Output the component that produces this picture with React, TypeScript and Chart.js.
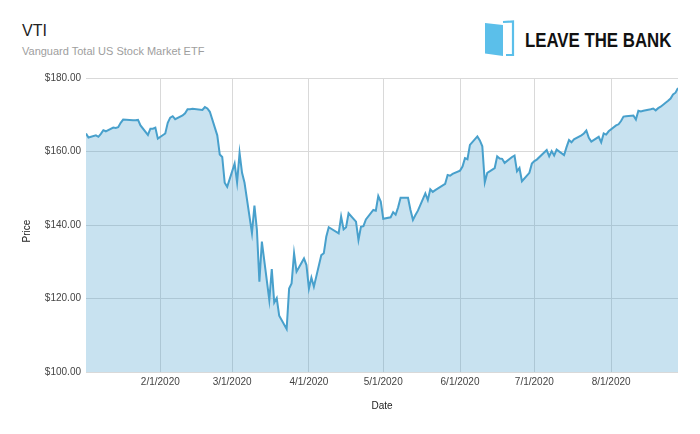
import { useEffect, useRef } from "react";
import { Chart, registerables } from "chart.js";

Chart.register(...registerables);

// ---- Data (VTI daily close, 2020) ----
const tradingDates: string[] = [
  "2020-01-02", "2020-01-03", "2020-01-06", "2020-01-07", "2020-01-08", "2020-01-09", "2020-01-10",
  "2020-01-13", "2020-01-14", "2020-01-15", "2020-01-16", "2020-01-17",
  "2020-01-21", "2020-01-22", "2020-01-23", "2020-01-24",
  "2020-01-27", "2020-01-28", "2020-01-29", "2020-01-30", "2020-01-31",
  "2020-02-03", "2020-02-04", "2020-02-05", "2020-02-06", "2020-02-07",
  "2020-02-10", "2020-02-11", "2020-02-12", "2020-02-13", "2020-02-14",
  "2020-02-18", "2020-02-19", "2020-02-20", "2020-02-21",
  "2020-02-24", "2020-02-25", "2020-02-26", "2020-02-27", "2020-02-28",
  "2020-03-02", "2020-03-03", "2020-03-04", "2020-03-05", "2020-03-06",
  "2020-03-09", "2020-03-10", "2020-03-11", "2020-03-12", "2020-03-13",
  "2020-03-16", "2020-03-17", "2020-03-18", "2020-03-19", "2020-03-20",
  "2020-03-23", "2020-03-24", "2020-03-25", "2020-03-26", "2020-03-27",
  "2020-03-30", "2020-03-31", "2020-04-01", "2020-04-02", "2020-04-03",
  "2020-04-06", "2020-04-07", "2020-04-08", "2020-04-09",
  "2020-04-13", "2020-04-14", "2020-04-15", "2020-04-16", "2020-04-17",
  "2020-04-20", "2020-04-21", "2020-04-22", "2020-04-23", "2020-04-24",
  "2020-04-27", "2020-04-28", "2020-04-29", "2020-04-30", "2020-05-01",
  "2020-05-04", "2020-05-05", "2020-05-06", "2020-05-07", "2020-05-08",
  "2020-05-11", "2020-05-12", "2020-05-13", "2020-05-14", "2020-05-15",
  "2020-05-18", "2020-05-19", "2020-05-20", "2020-05-21", "2020-05-22",
  "2020-05-26", "2020-05-27", "2020-05-28", "2020-05-29",
  "2020-06-01", "2020-06-02", "2020-06-03", "2020-06-04", "2020-06-05",
  "2020-06-08", "2020-06-09", "2020-06-10", "2020-06-11", "2020-06-12",
  "2020-06-15", "2020-06-16", "2020-06-17", "2020-06-18", "2020-06-19",
  "2020-06-22", "2020-06-23", "2020-06-24", "2020-06-25", "2020-06-26",
  "2020-06-29", "2020-06-30", "2020-07-01", "2020-07-02",
  "2020-07-06", "2020-07-07", "2020-07-08", "2020-07-09", "2020-07-10",
  "2020-07-13", "2020-07-14", "2020-07-15", "2020-07-16", "2020-07-17",
  "2020-07-20", "2020-07-21", "2020-07-22", "2020-07-23", "2020-07-24",
  "2020-07-27", "2020-07-28", "2020-07-29", "2020-07-30", "2020-07-31",
  "2020-08-03", "2020-08-04", "2020-08-05", "2020-08-06", "2020-08-07",
  "2020-08-10", "2020-08-11", "2020-08-12", "2020-08-13", "2020-08-14",
  "2020-08-17", "2020-08-18", "2020-08-19", "2020-08-20", "2020-08-21",
  "2020-08-24", "2020-08-25", "2020-08-26", "2020-08-27", "2020-08-28",
];

const closePrices: number[] = [
  164.9, 163.8, 164.4, 164.0, 164.8, 165.8, 165.5,
  166.5, 166.4, 166.6, 167.8, 168.7,
  168.5, 168.5, 168.6, 167.1,
  164.5, 166.2, 166.2, 166.5, 163.5,
  164.9, 167.8, 169.2, 169.6, 168.8,
  169.8, 170.4, 171.5, 171.5, 171.6,
  171.3, 172.1, 171.7, 170.8,
  164.4, 159.2, 158.5, 151.5, 150.4,
  156.7, 151.6, 159.6, 154.2, 151.5,
  137.8, 145.3, 138.7, 124.6, 135.5,
  119.6, 128.0, 118.9, 120.1, 115.3,
  111.7, 122.7, 124.1, 132.3, 127.3,
  130.9, 129.1, 122.7, 125.7, 123.2,
  131.8, 132.3, 136.8, 139.4,
  137.7, 142.3, 138.8, 139.4, 143.2,
  140.9, 135.9, 139.5, 139.7, 141.5,
  144.1, 143.9, 147.9, 146.4, 141.7,
  142.1, 143.5, 142.8, 144.8, 147.4,
  147.4, 144.1, 141.4, 142.7, 143.9,
  148.6, 146.8, 149.7, 149.0, 149.5,
  151.2, 153.6, 153.4, 153.9,
  154.8, 155.9, 158.2, 157.9, 161.8,
  164.1, 163.0, 161.4, 151.6, 154.2,
  155.5, 158.7, 158.1, 158.0, 156.9,
  158.5, 158.9, 154.6, 155.5, 151.9,
  154.2, 156.7, 157.4, 157.8,
  160.4, 158.7, 160.1, 158.9, 160.5,
  159.0, 161.2, 163.1, 162.5, 163.3,
  164.4, 164.9, 165.7, 163.7, 162.7,
  164.0, 162.5, 164.9, 164.6, 165.5,
  167.1, 167.4, 168.3, 169.5, 169.6,
  169.8, 168.7, 171.1, 170.9, 171.1,
  171.5, 171.7, 171.2, 171.8, 172.2,
  173.8, 174.4, 175.5, 176.0, 177.3,
];

const monthTickDates: string[] = [
  "2020-02-01", "2020-03-01", "2020-04-01", "2020-05-01", "2020-06-01", "2020-07-01", "2020-08-01",
];
const monthTickLabels: string[] = [
  "2/1/2020", "3/1/2020", "4/1/2020", "5/1/2020", "6/1/2020", "7/1/2020", "8/1/2020",
];
const priceTicks: number[] = [100, 120, 140, 160, 180];

// ---- Styles ----
const FONT = '"Liberation Sans", Arial, Helvetica, sans-serif';
const LINE_COLOR = "rgb(72,160,204)";
const FILL_COLOR = "rgba(72,160,204,0.3)";
const GRID_COLOR = "#d9d9d9";
const TICK_COLOR = "#444444";

const DAY_MS = 86400000;
const toDay = (s: string): number => {
  const [y, m, d] = s.split("-").map(Number);
  return (Date.UTC(y, m - 1, d) - Date.UTC(2020, 0, 1)) / DAY_MS;
};

const axisTitlePlugin = {
  id: "axisTitles",
  afterDraw(chart: any) {
    const { ctx, chartArea } = chart;
    const { left, right, top, bottom } = chartArea;
    ctx.save();
    ctx.fillStyle = "#222222";
    ctx.font = `10px ${FONT}`;
    ctx.textAlign = "center";
    ctx.textBaseline = "middle";
    ctx.fillText("Date", (left + right) / 2, bottom + 34);
    ctx.translate(27, (top + bottom) / 2 + 6);
    ctx.rotate(-Math.PI / 2);
    ctx.fillText("Price", 0, 0);
    ctx.restore();
  },
};

export default function App() {
  const canvasRef = useRef<HTMLCanvasElement>(null);

  useEffect(() => {
    if (!canvasRef.current) return;
    const points = tradingDates.map((d, i) => ({ x: toDay(d), y: closePrices[i] }));
    const tickDays = monthTickDates.map(toDay);

    const chart = new Chart(canvasRef.current, {
      type: "line",
      data: {
        datasets: [
          {
            label: "VTI",
            data: points,
            borderColor: LINE_COLOR,
            backgroundColor: FILL_COLOR,
            fill: "start",
            borderWidth: 2,
            pointRadius: 0,
            pointHoverRadius: 0,
            tension: 0,
          },
        ],
      },
      options: {
        responsive: false,
        maintainAspectRatio: false,
        animation: false,
        devicePixelRatio: 1,
        layout: { padding: { top: 78, right: 22, left: 0, bottom: 0 } },
        plugins: {
          legend: { display: false },
          tooltip: { enabled: false },
        },
        scales: {
          x: {
            type: "linear",
            min: toDay(tradingDates[0]),
            max: toDay(tradingDates[tradingDates.length - 1]),
            afterFit: (s: any) => {
              s.height = 62;
            },
            afterBuildTicks: (s: any) => {
              s.ticks = tickDays.map((v) => ({ value: v }));
            },
            ticks: {
              autoSkip: false,
              maxRotation: 0,
              padding: 4,
              color: TICK_COLOR,
              font: { family: FONT, size: 10 },
              callback: (_v: any, i: number) => monthTickLabels[i] ?? "",
            },
            grid: { color: GRID_COLOR, drawTicks: false, lineWidth: 1 },
            border: { display: false },
          },
          y: {
            min: 100,
            max: 180,
            afterFit: (s: any) => {
              s.width = 86;
            },
            afterBuildTicks: (s: any) => {
              s.ticks = priceTicks.map((v) => ({ value: v }));
            },
            ticks: {
              padding: 5,
              color: TICK_COLOR,
              font: { family: FONT, size: 10 },
              callback: (v: any) => "$" + Number(v).toFixed(2),
            },
            grid: { color: GRID_COLOR, drawTicks: false, lineWidth: 1 },
            border: { display: false },
          },
        },
      },
      plugins: [axisTitlePlugin],
    });

    return () => chart.destroy();
  }, []);

  return (
    <div
      style={{
        position: "fixed",
        left: 0,
        top: 0,
        width: 700,
        height: 434,
        background: "#ffffff",
        overflow: "hidden",
        fontFamily: FONT,
      }}
    >
      <div
        style={{
          position: "absolute",
          left: 22,
          top: 23,
          fontSize: 16,
          lineHeight: "16px",
          color: "#222222",
          whiteSpace: "nowrap",
        }}
      >
        VTI
      </div>
      <div
        style={{
          position: "absolute",
          left: 22,
          top: 46,
          fontSize: 11,
          lineHeight: "11px",
          color: "#9e9e9e",
          whiteSpace: "nowrap",
        }}
      >
        Vanguard Total US Stock Market ETF
      </div>
      <svg
        style={{ position: "absolute", left: 480, top: 16 }}
        width={40}
        height={44}
        viewBox="0 0 40 44"
      >
        <polygon points="5,7 23,9 23,40 5,37.5" fill="#5bbfea" />
        <polyline points="23,6 33,5.5 33,39 26,39" fill="none" stroke="#5bbfea" strokeWidth={2.2} />
      </svg>
      <div
        style={{
          position: "absolute",
          left: 525,
          top: 29.5,
          fontSize: 20.5,
          lineHeight: "20.5px",
          fontWeight: 700,
          fontFamily: FONT,
          color: "#111111",
          whiteSpace: "nowrap",
          transform: "scaleX(0.82)",
          transformOrigin: "0 0",
        }}
      >
        LEAVE THE BANK
      </div>
      <canvas
        ref={canvasRef}
        width={700}
        height={434}
        style={{ position: "absolute", left: 0, top: 0, width: 700, height: 434 }}
      />
    </div>
  );
}
